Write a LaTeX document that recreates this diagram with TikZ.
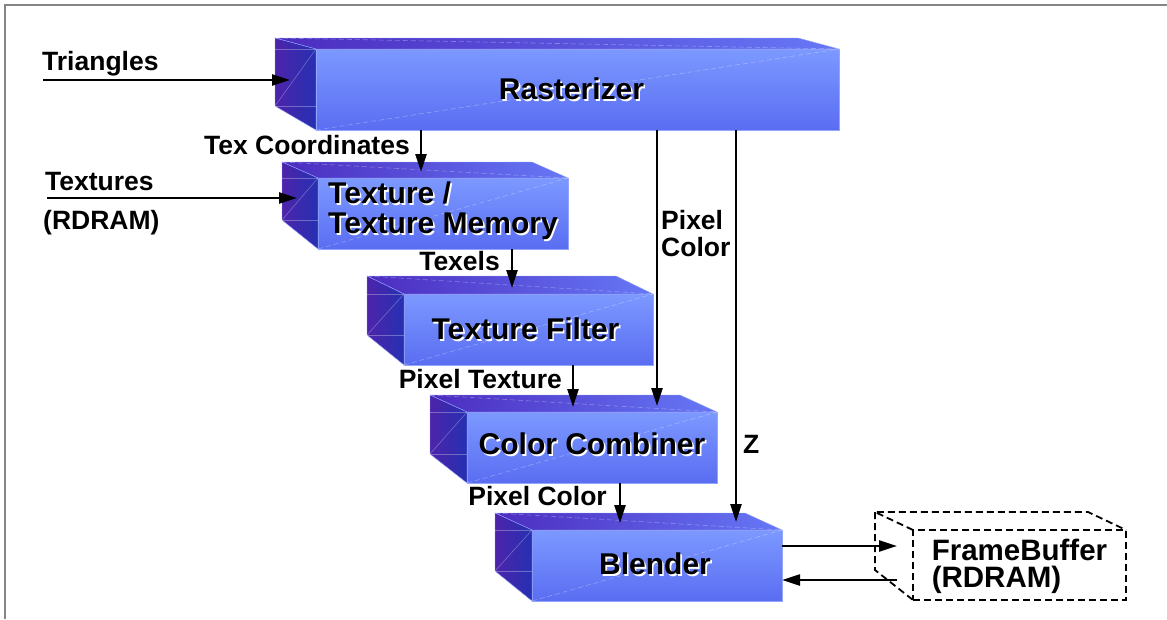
\documentclass[tikz,border=0pt]{standalone}
\usepackage{fontspec}
\setmainfont{Liberation Sans}
\usetikzlibrary{arrows.meta,calc}
\definecolor{frontA}{HTML}{7C99FF}
\definecolor{frontB}{HTML}{5A6DF2}
\definecolor{sideA}{HTML}{4C24AA}
\definecolor{sideB}{HTML}{2630B2}
\definecolor{topA}{HTML}{4C2CC0}
\definecolor{topB}{HTML}{6678F6}
\definecolor{edgec}{HTML}{93A6FF}
\definecolor{framec}{HTML}{858585}
\tikzset{
  frontface/.style={draw=edgec, line width=0.6pt, top color=frontA, bottom color=frontB, inner sep=0pt, outer sep=0pt},
  sidefill/.style={left color=sideA, right color=sideB, draw=edgec, line width=0.4pt},
  topfill/.style={left color=topA, right color=topB, draw=edgec, line width=0.4pt},
  faint/.style={white, opacity=0.3, line width=0.6pt},
  faintdash/.style={faint, dash pattern=on 5pt off 3pt},
  lbl/.style={font=\fontsize{26.5}{27}\selectfont\bfseries, inner sep=0pt, anchor=base west},
  btxt/.style={font=\fontsize{30}{30}\selectfont\bfseries, inner sep=0pt, align=left},
  arr/.style={line width=2.3pt, -{Triangle[length=18pt,width=11pt]}},
  fbline/.style={line width=1.8pt, dash pattern=on 7pt off 4pt},
}
% text with a white drop shadow
\newcommand\shtext[1]{\makebox[0pt][l]{\hspace{1.6pt}\raisebox{-1.6pt}{\textcolor{white}{#1}}}#1}
% name, x1, y1, x2, y2, dx, dy(top), dy(bottom back)
\newcommand\pipebox[8]{%
  \node[frontface, minimum width={#4-#2}, minimum height={#5-#3}] (#1) at ({(#2+#4)/2},{(#3+#5)/2}) {};
  \shade[topfill] (#1.north west) -- ++(-#6,-#7) -- ($(#1.north east)+(-#6,-#7)$) -- (#1.north east) -- cycle;
  \shade[sidefill] (#1.north west) -- ++(-#6,-#7) -- ($(#1.south west)+(-#6,-#8)$) -- (#1.south west) -- cycle;
  \draw[faintdash] (#1.south west) -- (#1.north east);
  \draw[faintdash] ($(#1.north west)+(-#6,-#7)$) -- (#1.north east);
  \draw[faint] ($(#1.south west)+(-#6,-#8)$) -- (#1.north west);
  \draw[faint] ($(#1.north west)+(-#6,0)$) -- (#1.north west);
  \draw[faint] ($(#1.south west)+(-#6,-#8)$) -- ++(#6,0);
}
\begin{document}
\begin{tikzpicture}[x=1pt,y=-1pt]
\useasboundingbox (0,0) rectangle (1167,619);
\fill[white] (0,0) rectangle (1167,619);
\draw[framec, line width=1.5pt] (5,619) -- (5,5) -- (1167,5);

% boxes
\pipebox{rast}{316}{49}{839}{130}{41}{11}{24}
\pipebox{texm}{318}{178}{568}{249}{36}{16}{29}
\pipebox{filt}{404}{294}{653}{365}{37}{18}{30}
\pipebox{comb}{467}{412}{717}{483}{37}{17}{29}
\pipebox{blend}{532}{530}{782}{601}{37}{17}{30}

\node[btxt] (rastT) at ($(rast.center)+(-6,0)$) {\shtext{Rasterizer}};
\node[btxt] (texmT) at ($(texm.center)+(0,-2)$) {\shtext{Texture /}\\\shtext{Texture Memory}};
\node[btxt] (filtT) at ($(filt.center)+(-3,0)$) {\shtext{Texture Filter}};
\node[btxt] (combT) at ($(comb.center)+(0,-3)$) {\shtext{Color Combiner}};
\node[btxt] (blendT) at ($(blend.center)+(-2,-1)$) {\shtext{Blender}};

% framebuffer (dashed)
\node[fbline, draw, minimum width=213, minimum height=70, inner sep=0pt, outer sep=0pt] (fb) at (1019.5,565) {};
\draw[fbline] (fb.north west) -- ++(-38,-18) -- ($(fb.north east)+(-38,-18)$) -- (fb.north east);
\draw[fbline] ($(fb.north west)+(-38,-18)$) -- ($(fb.south west)+(-38,-30)$) -- (fb.south west);
\node[font=\fontsize{29.5}{27}\selectfont\bfseries, inner sep=0pt, align=left] (fbT) at ($(fb.center)+(0,1)$) {FrameBuffer\\(RDRAM)};

% input labels
\node[lbl] (triL) at (42,70) {Triangles};
\coordinate (triS) at (43,80);
\draw[arr] (triS) -- ($(rast.west |- triS)+(-26,0)$);

\node[lbl] (texL) at (45,190) {Textures};
\node[lbl] (rdL) at (43,229) {(RDRAM)};
\coordinate (texS) at (47,198);
\draw[arr] (texS) -- ($(texm.west |- texS)+(-21,0)$);

% internal connectors
\draw[arr] ($(rast.south west)+(105,0)$) -- ($(texm.north west)+(103,-6)$);
\node[lbl, anchor=base east] (tcL) at (410,154) {Tex Coordinates};

\draw[arr] ($(texm.south west)+(194,0)$) -- ($(filt.north west)+(108,-6)$);
\node[lbl, anchor=base east] (txL) at (500,270) {Texels};

\draw[arr] ($(filt.south west)+(169,0)$) -- ($(comb.north west)+(106,-5)$);
\node[lbl, anchor=base east] (ptL) at (562,388) {Pixel Texture};

\draw[arr] ($(rast.south west)+(341,0)$) -- ($(comb.north west)+(190,-6)$);
\node[lbl, align=left, anchor=base west] (pcL) at (661,256) {Pixel\\Color};

\draw[arr] ($(comb.south west)+(153,0)$) -- ($(blend.north west)+(88,-7)$);
\node[lbl, anchor=base east] (pc2L) at (607,505) {Pixel Color};

\draw[arr] ($(rast.south west)+(420,0)$) -- ($(blend.north west)+(204,-8)$);
\node[lbl] (zL) at (743,453) {Z};

% blender <-> framebuffer
\draw[arr] ($(blend.north east)+(0,16)$) -- ($(fb.north west)+(-16,16)$);
\draw[arr] ($(fb.north west)+(-16,50)$) -- ($(blend.north east)+(0,50)$);
\end{tikzpicture}
\end{document}
